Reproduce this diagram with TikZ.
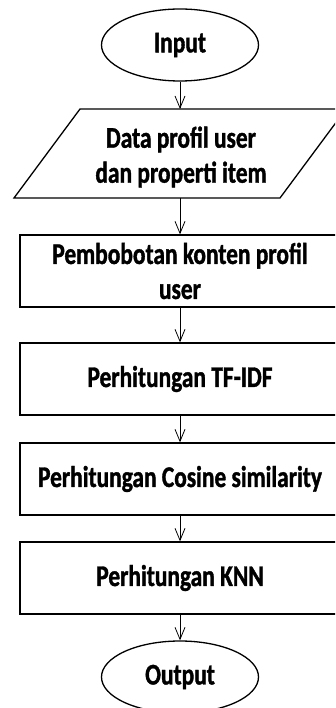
\documentclass[tikz,border=0pt]{standalone}
\usepackage{fontspec}
\setmainfont{Carlito}[FakeStretch=0.78,BoldFeatures={FakeBold=1.2}]
\usetikzlibrary{arrows.meta,shapes.geometric}
\begin{document}
\begin{tikzpicture}[x=1pt,y=-1pt,
  lbl/.style={font=\bfseries\fontsize{30}{35}\selectfont, align=center},
  term/.style={lbl, draw, ellipse, line width=1.3pt, minimum width=157pt, minimum height=72pt, inner sep=0pt},
  procbox/.style={lbl, draw, line width=1.3pt, minimum width=320pt, minimum height=72pt, inner sep=0pt},
  outline/.style={draw, line width=1.3pt, line join=miter},
  flow/.style={-{Straight Barb[length=12pt,width=10pt,line width=0.8pt]}, line width=0.8pt}
]
\clip (0,0) rectangle (335,708);
\fill[white] (0,0) rectangle (335,708);

\node[term] (in) at (180,45) {Input};

\coordinate (pTL) at (80,109);
\coordinate (pTR) at (346,109);
\coordinate (pBR) at (280,198);
\coordinate (pBL) at (14,198);
\coordinate (dataTop) at (180,109);
\coordinate (dataBot) at (180,198);
\draw[outline] (pTL) -- (pTR) -- (pBR) -- (pBL) -- cycle;
\node[lbl] (data) at (181,157) {Data profil user\\dan properti item};

\node[procbox] (b1) at (180,271) {Pembobotan konten profil\\user};
\node[procbox] (b2) at (180,379) {Perhitungan TF-IDF};
\node[procbox] (b3) at (180,479) {Perhitungan Cosine similarity};
\node[procbox] (b4) at (180,578) {Perhitungan KNN};
\node[term] (out) at (180,677) {Output};

\draw[flow] (in) -- (dataTop);
\draw[flow] (dataBot) -- (b1);
\draw[flow] (b1) -- (b2);
\draw[flow] (b2) -- (b3);
\draw[flow] (b3) -- (b4);
\draw[flow] (b4) -- (out);
\end{tikzpicture}
\end{document}
